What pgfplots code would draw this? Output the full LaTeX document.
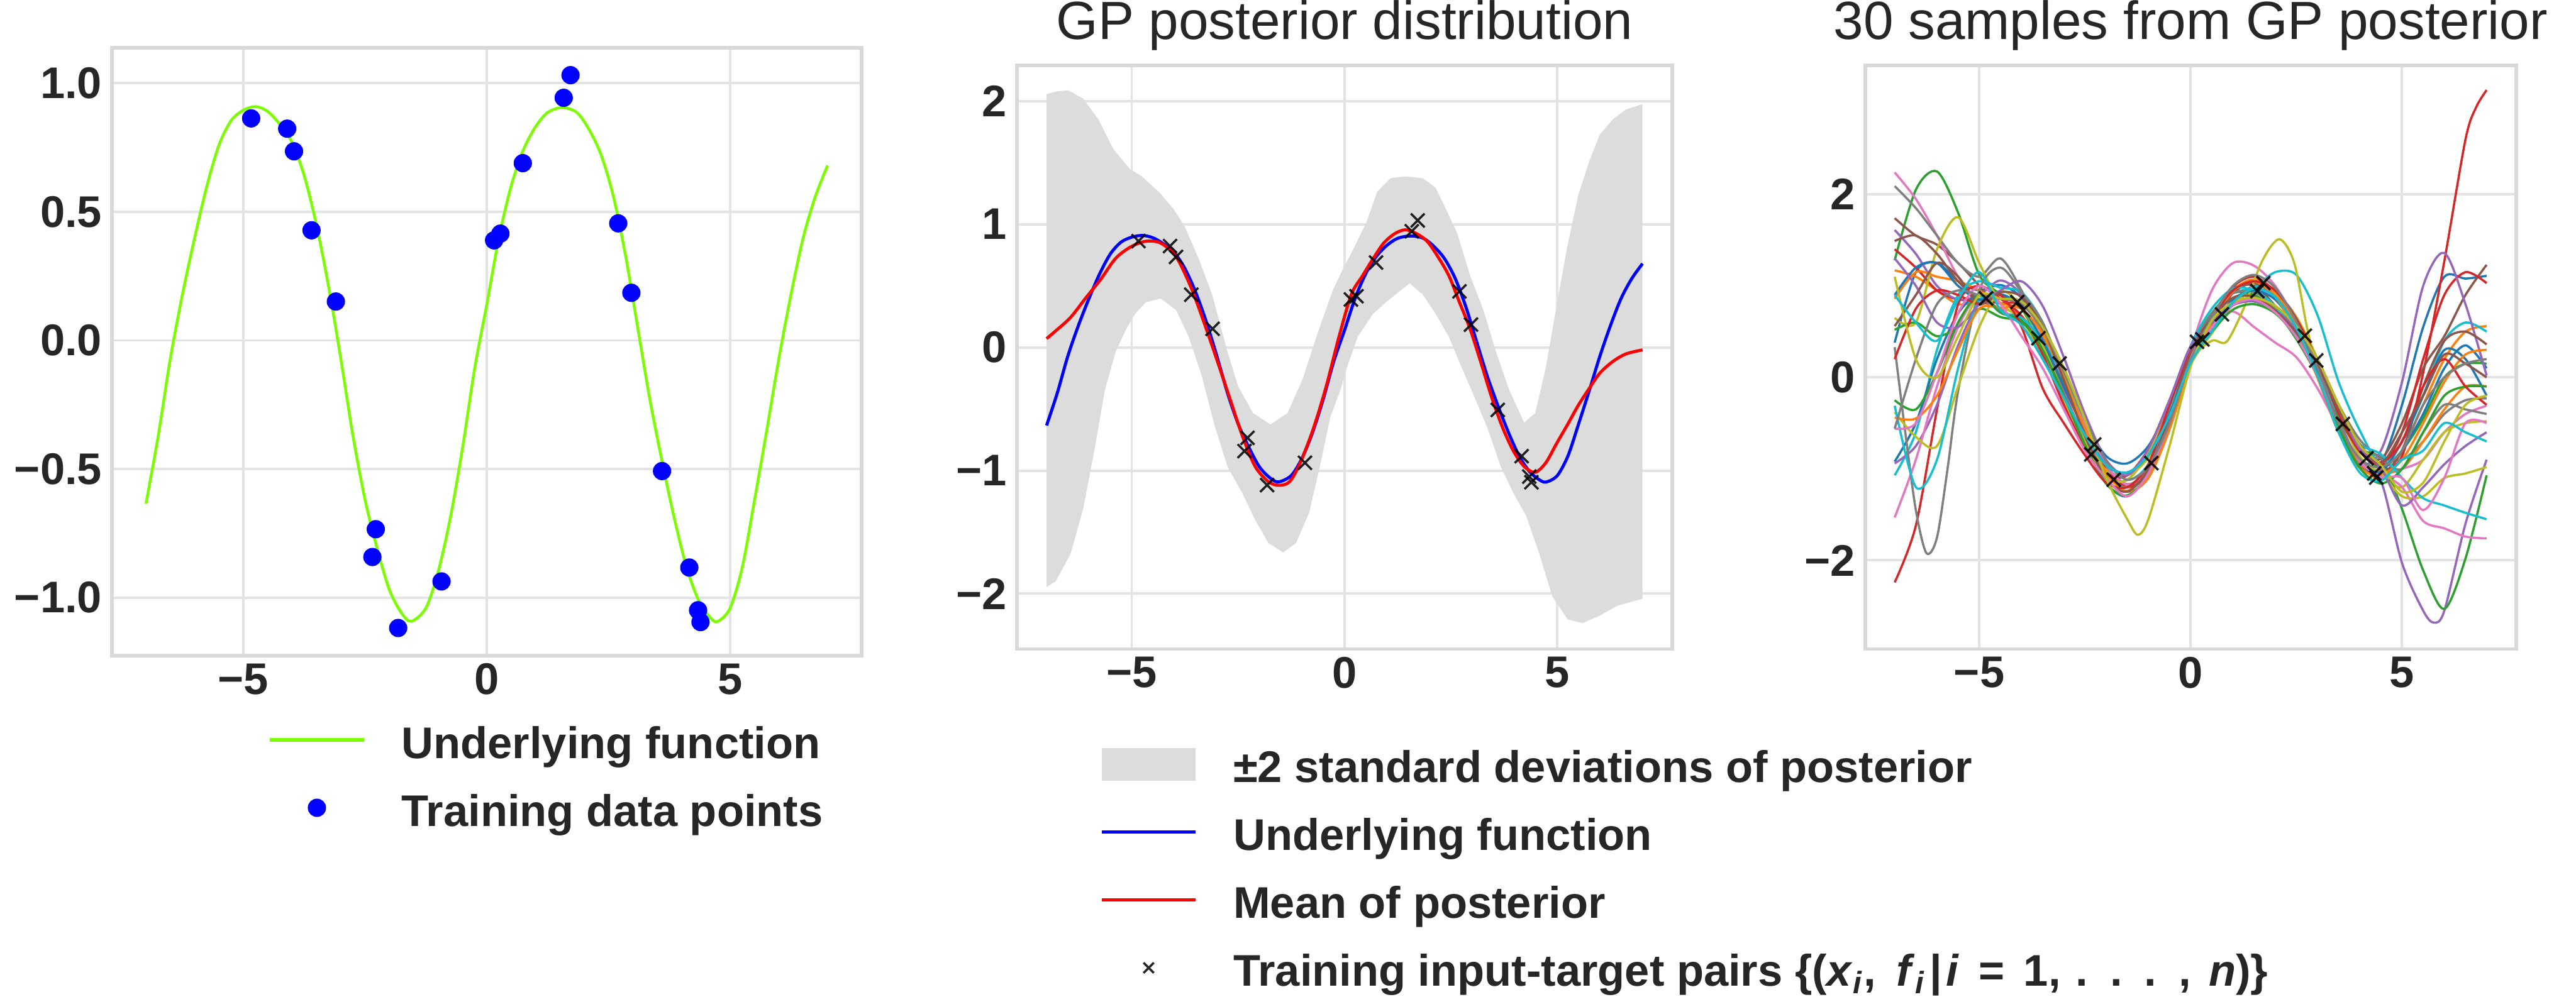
\documentclass[border=0pt]{standalone}
\usepackage{fontspec}
\setmainfont{Liberation Sans}
\usepackage{pgfplots}
\usepackage{pgfplotstable}
\pgfplotsset{compat=1.18}
\definecolor{txt}{HTML}{262626}
\definecolor{gridc}{HTML}{E3E3E3}
\definecolor{spinec}{HTML}{D9D9D9}
\definecolor{band}{HTML}{DCDCDC}
\definecolor{lgreen}{HTML}{7CFC00}
\definecolor{c0}{HTML}{1F77B4}
\definecolor{c1}{HTML}{FF7F0E}
\definecolor{c2}{HTML}{2CA02C}
\definecolor{c3}{HTML}{D62728}
\definecolor{c4}{HTML}{9467BD}
\definecolor{c5}{HTML}{8C564B}
\definecolor{c6}{HTML}{E377C2}
\definecolor{c7}{HTML}{7F7F7F}
\definecolor{c8}{HTML}{BCBD22}
\definecolor{c9}{HTML}{17BECF}
\newcommand\tickfont{\fontsize{16}{19}\selectfont\bfseries}
\newcommand\legfont{\fontsize{16}{19}\selectfont\bfseries}
\newcommand\titfont{\fontsize{19.4}{23}\selectfont}

\pgfplotsset{
 gp/.style={
  scale only axis,
  xmin=-7.7, xmax=7.7,
  xtick={-5,0,5}, xticklabels={−5,0,5},
  axis line style={draw=spinec, line width=1.3pt},
  grid=major,
  major grid style={draw=gridc, line width=0.9pt},
  major tick length=0pt,
  tick style={draw=none},
  ticklabel style={font=\tickfont, text=txt},
  xticklabel style={inner sep=0pt, yshift=-2.6pt},
  yticklabel style={inner sep=0pt, xshift=-3.4pt},
  title style={font=\titfont, text=txt, at={(0.5,1)}, anchor=base, yshift=3.4pt},
  legend cell align=left,
  legend style={draw=none, fill=none, inner sep=0pt, outer sep=0pt,
    row sep=9.7pt, column sep=13pt, font=\legfont, text=txt,
    nodes={inner sep=0pt, text height=14pt, text depth=0.8pt}},
 },
 legline/.style={legend image code/.code={\draw[##1,line width=1.2pt] (0pt,0pt) -- (34pt,0pt);}},
 legdot/.style={legend image code/.code={\path (0pt,0pt) (34pt,0pt); \draw[##1] plot coordinates {(17pt,0pt)};}},
 legpatch/.style={legend image code/.code={\path[##1,draw=none] (0pt,-5.9pt) rectangle (34pt,5.9pt);}},
 legx/.style={legend image code/.code={\path (0pt,0pt) (34pt,0pt); \draw[##1,mark size=2.6pt] plot coordinates {(17pt,0pt)};}},
 samp/.style={line width=0.8pt, smooth, forget plot},
}

\pgfplotstableread{
x y
-7.0 -0.634
-6.75 -0.372
-6.5 -0.07
-6.25 0.18
-6.0 0.40
-5.75 0.60
-5.5 0.76
-5.25 0.855
-5.0 0.895
-4.75 0.909
-4.5 0.89
-4.25 0.84
-4.0 0.77
-3.75 0.64
-3.5 0.45
-3.25 0.21
-3.0 -0.07
-2.75 -0.37
-2.5 -0.62
-2.25 -0.81
-2.0 -0.97
-1.75 -1.06
-1.55 -1.092
-1.25 -1.04
-1.0 -0.90
-0.75 -0.69
-0.5 -0.42
-0.25 -0.11
0.0 0.14
0.25 0.40
0.5 0.60
0.75 0.74
1.0 0.83
1.25 0.886
1.55 0.905
1.85 0.886
2.1 0.82
2.35 0.72
2.6 0.56
2.85 0.33
3.1 0.05
3.35 -0.23
3.6 -0.47
3.85 -0.69
4.1 -0.88
4.35 -1.01
4.6 -1.08
4.75 -1.092
5.0 -1.04
5.25 -0.88
5.5 -0.62
5.75 -0.35
6.0 -0.07
6.25 0.18
6.5 0.40
6.75 0.56
7.0 0.68
}\ufun

\pgfplotstableread{
x y
-4.84 0.863
-4.10 0.823
-3.96 0.735
-3.60 0.428
-3.10 0.151
-2.28 -0.734
-2.35 -0.842
-1.82 -1.118
-0.93 -0.937
0.15 0.389
0.28 0.415
0.74 0.689
1.58 0.943
1.72 1.031
2.70 0.455
2.97 0.185
3.60 -0.508
4.16 -0.883
4.34 -1.049
4.39 -1.095
}\train

\pgfplotstableread{
x y
-7.0 0.071
-6.79 0.133
-6.44 0.242
-6.09 0.397
-5.73 0.552
-5.38 0.722
-5.03 0.815
-4.67 0.862
-4.32 0.847
-3.96 0.738
-3.61 0.49
-3.31 0.211
-3.0 -0.099
-2.70 -0.409
-2.40 -0.719
-2.10 -0.967
-1.79 -1.09
-1.54 -1.12
-1.29 -1.09
-1.04 -0.936
-0.73 -0.657
-0.43 -0.316
-0.13 0.087
0.16 0.43
0.42 0.58
0.67 0.72
0.92 0.847
1.18 0.924
1.43 0.955
1.69 0.924
1.94 0.862
2.19 0.738
2.45 0.583
2.70 0.366
2.95 0.149
3.21 -0.130
3.46 -0.409
3.72 -0.657
3.97 -0.843
4.22 -0.967
4.48 -1.014
4.73 -0.936
4.98 -0.781
5.24 -0.626
5.49 -0.471
5.75 -0.332
6.0 -0.208
6.30 -0.115
6.61 -0.053
7.0 -0.02
}\pmean

\begin{document}
\begin{tikzpicture}
\useasboundingbox (0pt,0pt) rectangle (929.8pt,-360pt);

% ---------------- Panel 1 ----------------
\begin{axis}[gp, at={(40.4pt,-236.8pt)}, anchor=south west,
  width=270.6pt, height=219.6pt,
  ymin=-1.226, ymax=1.138,
  ytick={-1,-0.5,0,0.5,1}, yticklabels={−1.0,−0.5,0.0,0.5,1.0},
  legend style={at={(0.2084,-0.1047)}, anchor=north west}]
\addplot[lgreen, line width=1pt, smooth, legline] table {\ufun};
\addlegendentry{Underlying function}
\addplot[only marks, mark=*, mark size=3.1pt, color=blue, mark options={fill=blue, draw=blue}, legdot] table {\train};
\addlegendentry{Training data points}
\end{axis}

% ---------------- Panel 2 ----------------
\begin{axis}[gp, at={(367pt,-234.4pt)}, anchor=south west,
  width=236.6pt, height=210.8pt,
  ymin=-2.45, ymax=2.29,
  ytick={-2,-1,0,1,2}, yticklabels={−2,−1,0,1,2},
  title={GP posterior distribution},
  legend style={at={(0.1268,-0.1622)}, anchor=north west}]
\addplot[fill=band, draw=none, legpatch] coordinates {
(-7.0,2.056) (-6.75,2.08) (-6.49,2.087) (-6.14,2.02) (-5.78,1.85) (-5.43,1.61) (-5.05,1.45) (-4.77,1.39) (-4.37,1.265) (-4.02,1.125) (-3.76,0.986) (-3.41,0.707) (-3.11,0.428) (-2.75,-0.037) (-2.5,-0.316) (-2.15,-0.533) (-1.74,-0.626) (-1.34,-0.533) (-0.98,-0.254) (-0.63,0.118) (-0.28,0.459) (-0.09,0.60) (0.21,0.80) (0.52,1.02) (0.77,1.265) (1.08,1.374) (1.43,1.389) (1.84,1.374) (2.14,1.296) (2.40,1.11) (2.65,0.924) (2.95,0.583) (3.26,0.304) (3.56,-0.037) (3.87,-0.347) (4.22,-0.611) (4.48,-0.533) (4.73,-0.161) (4.98,0.335) (5.24,0.831) (5.49,1.234) (5.75,1.513) (6.0,1.73) (6.31,1.854) (6.61,1.932) (7.0,1.975)
(7.0,-2.04) (6.4,-2.099) (6.0,-2.177) (5.59,-2.239) (5.24,-2.208) (4.88,-2.02) (4.58,-1.68) (4.27,-1.37) (3.97,-1.184) (3.67,-0.967) (3.36,-0.657) (3.06,-0.409) (2.75,-0.161) (2.45,0.087) (2.14,0.273) (1.84,0.428) (1.53,0.521) (1.02,0.381) (0.67,0.273) (0.31,0.087) (0.06,-0.16) (-0.1,-0.35) (-0.33,-0.56) (-0.58,-0.967) (-0.83,-1.34) (-1.14,-1.588) (-1.44,-1.665) (-1.79,-1.588) (-2.10,-1.40) (-2.40,-1.184) (-2.75,-0.967) (-3.06,-0.626) (-3.36,-0.223) (-3.66,0.087) (-3.96,0.304) (-4.32,0.397) (-4.67,0.366) (-4.92,0.273) (-5.13,0.149) (-5.38,-0.037) (-5.63,-0.347) (-5.88,-0.84) (-6.14,-1.31) (-6.44,-1.68) (-6.79,-1.90) (-7.0,-1.944)
} -- cycle;
\addlegendentry{±2 standard deviations of posterior}
\addplot[blue, line width=1.1pt, smooth, legline] table {\ufun};
\addlegendentry{Underlying function}
\addplot[red, line width=1.1pt, smooth, legline] table {\pmean};
\addlegendentry{Mean of posterior}
\addplot[only marks, mark=x, mark size=3.5pt, color=black, mark options={line width=0.8pt, opacity=0.85}, legx] table {\train};
\addlegendentry{Training input-target pairs \{(\textit{x}\textsubscript{\textit{i}}, \hspace{3pt}\textit{f}\textsubscript{\textit{i}}\hspace{1.5pt}|\hspace{1.5pt}\textit{i} \hspace{2.5pt}= \hspace{2.5pt}1, \hspace{1pt}. \hspace{2pt}. \hspace{2pt}. \hspace{2pt}, \hspace{2pt}\textit{n})\}}
\end{axis}

% ---------------- Panel 3 ----------------
\begin{axis}[gp, at={(673.2pt,-234.4pt)}, anchor=south west,
  width=235pt, height=210.8pt,
  ymin=-2.97, ymax=3.41,
  ytick={-2,0,2}, yticklabels={−2,0,2},
  title={30 samples from GP posterior}]
\addplot[c0, samp] coordinates {(-7,0.38)(-6.5,1.15)(-6,1.25)(-5.5,1.05)(-5,0.95)(-4.5,1.01)(-4,0.87)(-3.5,0.50)(-3,0.00)(-2.5,-0.49)(-2,-0.86)(-1.5,-0.94)(-1,-0.75)(-0.5,-0.30)(0,0.29)(0.5,0.65)(1,0.95)(1.5,1.05)(2,0.95)(2.5,0.64)(3,0.18)(3.5,-0.40)(4,-0.81)(4.5,-0.93)(5,-0.3)(5.5,0.55)(6,1.10)(6.5,1.08)(7,1.11)};
\addplot[c1, samp] coordinates {(-7,1.17)(-6.5,1.10)(-6,0.95)(-5.5,0.80)(-5,0.82)(-4.5,0.76)(-4,0.67)(-3.5,0.35)(-3,-0.15)(-2.5,-0.69)(-2,-1.11)(-1.5,-1.24)(-1,-1.00)(-0.5,-0.45)(0,0.24)(0.5,0.55)(1,0.79)(1.5,0.85)(2,0.75)(2.5,0.49)(3,0.08)(3.5,-0.50)(4,-0.94)(4.5,-1.11)(5,-0.8)(5.5,-0.3)(6,0.2)(6.5,0.50)(7,0.56)};
\addplot[c2, samp] coordinates {(-7,1.28)(-6.5,2.05)(-6,2.25)(-5.5,1.80)(-5,1.12)(-4.5,0.91)(-4,0.75)(-3.5,0.32)(-3,-0.22)(-2.5,-0.71)(-2,-1.06)(-1.5,-1.07)(-1,-0.78)(-0.5,-0.25)(0,0.34)(0.5,0.60)(1,0.79)(1.5,0.83)(2,0.73)(2.5,0.52)(3,0.15)(3.5,-0.35)(4,-0.78)(4.5,-0.99)(5,-0.8)(5.5,-0.45)(6,0.0)(6.5,0.15)(7,0.15)};
\addplot[c3, samp] coordinates {(-7,1.40)(-6.5,1.20)(-6,0.95)(-5.5,0.85)(-5,0.85)(-4.5,0.81)(-4,0.80)(-3.5,0.52)(-3,0.05)(-2.5,-0.51)(-2,-0.99)(-1.5,-1.20)(-1,-1.05)(-0.5,-0.52)(0,0.19)(0.5,0.65)(1,0.99)(1.5,1.10)(2,0.93)(2.5,0.56)(3,0.05)(3.5,-0.55)(4,-0.94)(4.5,-1.01)(5,-0.86)(5.5,0.05)(6,1.27)(6.5,2.6)(6.75,2.95)(7,3.14)};
\addplot[c4, samp] coordinates {(-7,1.61)(-6.5,1.35)(-6,1.0)(-5.5,0.85)(-5,0.90)(-4.5,1.06)(-4,0.90)(-3.5,0.45)(-3,-0.15)(-2.5,-0.71)(-2,-1.06)(-1.5,-1.07)(-1,-0.80)(-0.5,-0.35)(0,0.19)(0.5,0.50)(1,0.82)(1.5,1.00)(2,0.93)(2.5,0.66)(3,0.18)(3.5,-0.45)(4,-0.94)(4.5,-1.13)(5,-2.03)(5.5,-2.55)(5.75,-2.68)(6,-2.55)(6.5,-1.6)(7,-0.9)};
\addplot[c5, samp] coordinates {(-7,1.74)(-6.5,1.55)(-6,1.45)(-5.5,1.25)(-5,1.0)(-4.5,0.71)(-4,0.65)(-3.5,0.40)(-3,-0.02)(-2.5,-0.51)(-2,-0.96)(-1.5,-1.17)(-1,-1.00)(-0.5,-0.48)(0,0.24)(0.5,0.68)(1,0.97)(1.5,1.00)(2,0.78)(2.5,0.44)(3,0.02)(3.5,-0.45)(4,-0.78)(4.5,-0.89)(5,-0.5)(5.5,0.1)(6,0.45)(6.5,0.9)(7,1.23)};
\addplot[c6, samp] coordinates {(-7,2.24)(-6.5,1.95)(-6,1.55)(-5.5,1.10)(-5,0.85)(-4.5,0.86)(-4,0.83)(-3.5,0.55)(-3,0.10)(-2.5,-0.46)(-2,-0.96)(-1.5,-1.17)(-1,-1.02)(-0.5,-0.55)(0,0.30)(0.5,0.95)(1,1.25)(1.5,1.22)(2,1.00)(2.5,0.60)(3,0.00)(3.5,-0.60)(4,-0.98)(4.5,-1.06)(5,-1.0)(5.5,-0.9)(6,-0.6)(6.5,-0.4)(7,-0.31)};
\addplot[c7, samp] coordinates {(-7,2.09)(-6.5,1.85)(-6,1.55)(-5.5,1.25)(-5,1.10)(-4.5,1.30)(-4,0.95)(-3.5,0.45)(-3,-0.20)(-2.5,-0.73)(-2,-1.09)(-1.5,-1.12)(-1,-0.82)(-0.5,-0.28)(0,0.34)(0.5,0.65)(1,0.87)(1.5,0.90)(2,0.73)(2.5,0.42)(3,0.02)(3.5,-0.45)(4,-0.78)(4.5,-0.86)(5,-0.9)(5.5,-0.7)(6,-0.4)(6.5,-0.25)(7,-0.23)};
\addplot[c8, samp] coordinates {(-7,0.65)(-6.5,0.6)(-6,1.4)(-5.5,1.75)(-5,1.25)(-4.5,0.81)(-4,0.63)(-3.5,0.22)(-3,-0.25)(-2.5,-0.69)(-2,-1.01)(-1.5,-1.07)(-1,-0.88)(-0.5,-0.45)(0,0.14)(0.5,0.48)(1,0.79)(1.5,0.95)(2,0.91)(2.5,0.66)(3,0.20)(3.5,-0.40)(4,-0.86)(4.5,-1.06)(5,-1.2)(5.5,-0.9)(6,-0.6)(6.5,-0.5)(7,-0.48)};
\addplot[c9, samp] coordinates {(-7,-1.07)(-6.5,-0.6)(-6,0.3)(-5.5,0.9)(-5,1.05)(-4.5,0.98)(-4,0.93)(-3.5,0.60)(-3,0.02)(-2.5,-0.59)(-2,-1.06)(-1.5,-1.20)(-1,-0.95)(-0.5,-0.38)(0,0.32)(0.5,0.70)(1,0.92)(1.5,0.98)(2,1.15)(2.5,1.12)(3,0.68)(3.5,-0.05)(4,-0.58)(4.5,-0.95)(5,-0.7)(5.5,-0.2)(6,0.4)(6.5,0.6)(7,0.50)};
\addplot[c0, samp] coordinates {(-7,-0.92)(-6.5,-0.5)(-6,0.2)(-5.5,0.7)(-5,0.9)(-4.5,0.71)(-4,0.63)(-3.5,0.30)(-3,-0.20)(-2.5,-0.73)(-2,-1.16)(-1.5,-1.30)(-1,-1.05)(-0.5,-0.50)(0,0.19)(0.5,0.55)(1,0.79)(1.5,0.85)(2,0.71)(2.5,0.44)(3,0.02)(3.5,-0.50)(4,-0.91)(4.5,-1.09)(5,-0.8)(5.5,-0.4)(6,0.1)(6.5,0.35)(7,0.10)};
\addplot[c1, samp] coordinates {(-7,0.86)(-6.5,1.15)(-6,1.10)(-5.5,1.05)(-5,0.95)(-4.5,0.81)(-4,0.75)(-3.5,0.48)(-3,0.02)(-2.5,-0.51)(-2,-0.96)(-1.5,-1.17)(-1,-1.02)(-0.5,-0.55)(0,0.14)(0.5,0.60)(1,0.95)(1.5,1.07)(2,0.93)(2.5,0.56)(3,0.05)(3.5,-0.55)(4,-0.94)(4.5,-1.03)(5,-1.0)(5.5,-0.7)(6,-0.35)(6.5,-0.1)(7,-0.1)};
\addplot[c2, samp] coordinates {(-7,0.52)(-6.5,0.60)(-6,0.45)(-5.5,0.55)(-5,0.75)(-4.5,0.66)(-4,0.60)(-3.5,0.35)(-3,-0.05)(-2.5,-0.51)(-2,-0.96)(-1.5,-1.17)(-1,-1.00)(-0.5,-0.45)(0,0.29)(0.5,0.70)(1,0.92)(1.5,0.90)(2,0.73)(2.5,0.42)(3,0.02)(3.5,-0.45)(4,-0.78)(4.5,-0.89)(5,-1.44)(5.5,-2.11)(6,-2.53)(6.5,-1.98)(7,-1.07)};
\addplot[c3, samp] coordinates {(-7,-2.24)(-6.5,-1.62)(-6,-0.35)(-5.5,0.80)(-5,1.0)(-4.5,0.86)(-4,0.67)(-3.5,0.25)(-3,-0.30)(-2.5,-0.76)(-2,-1.06)(-1.5,-1.07)(-1,-0.78)(-0.5,-0.25)(0,0.34)(0.5,0.62)(1,0.82)(1.5,0.87)(2,0.78)(2.5,0.56)(3,0.20)(3.5,-0.30)(4,-0.74)(4.5,-0.96)(5,-0.6)(5.5,0.2)(6,0.9)(6.5,1.15)(7,1.03)};
\addplot[c4, samp] coordinates {(-7,-0.94)(-6.5,-0.75)(-6,-0.3)(-5.5,0.35)(-5,0.80)(-4.5,0.74)(-4,0.57)(-3.5,0.20)(-3,-0.22)(-2.5,-0.63)(-2,-0.96)(-1.5,-1.04)(-1,-0.85)(-0.5,-0.42)(0,0.16)(0.5,0.50)(1,0.82)(1.5,0.97)(2,0.88)(2.5,0.54)(3,0.02)(3.5,-0.60)(4,-0.95)(4.5,-0.80)(5,-0.05)(5.5,1.0)(6,1.36)(6.5,0.80)(7,0.02)};
\addplot[c5, samp] coordinates {(-7,1.49)(-6.5,1.55)(-6,1.35)(-5.5,1.05)(-5,0.85)(-4.5,0.86)(-4,0.83)(-3.5,0.55)(-3,0.10)(-2.5,-0.46)(-2,-0.96)(-1.5,-1.17)(-1,-1.02)(-0.5,-0.55)(0,0.14)(0.5,0.58)(1,0.92)(1.5,1.03)(2,0.88)(2.5,0.52)(3,0.00)(3.5,-0.60)(4,-0.98)(4.5,-1.06)(5,-0.8)(5.5,-0.1)(6,0.4)(6.5,0.5)(7,0.36)};
\addplot[c6, samp] coordinates {(-7,-1.53)(-6.5,-0.9)(-6,-0.1)(-5.5,0.55)(-5,0.90)(-4.5,0.71)(-4,0.65)(-3.5,0.40)(-3,-0.02)(-2.5,-0.51)(-2,-0.96)(-1.5,-1.17)(-1,-1.00)(-0.5,-0.48)(0,0.24)(0.5,0.60)(1,0.72)(1.5,0.55)(2,0.38)(2.5,0.22)(3,-0.12)(3.5,-0.55)(4,-0.90)(4.5,-1.05)(5,-1.2)(5.5,-1.57)(6,-1.65)(6.5,-1.74)(7,-1.76)};
\addplot[c7, samp] coordinates {(-7,0.33)(-6.75,-0.6)(-6.5,-1.45)(-6.25,-1.92)(-6,-1.75)(-5.75,-1.0)(-5.5,-0.15)(-5,0.95)(-4.5,1.20)(-4,0.93)(-3.5,0.60)(-3,0.02)(-2.5,-0.59)(-2,-1.06)(-1.5,-1.20)(-1,-0.95)(-0.5,-0.38)(0,0.32)(0.5,0.70)(1,0.92)(1.5,0.93)(2,0.78)(2.5,0.54)(3,0.18)(3.5,-0.30)(4,-0.68)(4.5,-0.89)(5,-1.0)(5.5,-0.6)(6,-0.3)(6.5,-0.35)(7,-0.4)};
\addplot[c8, samp] coordinates {(-7,-0.38)(-6.5,-0.65)(-6,-0.75)(-5.5,-0.1)(-5,0.55)(-4.5,0.94)(-4,0.77)(-3.5,0.35)(-3,-0.20)(-2.5,-0.73)(-2,-1.09)(-1.5,-1.12)(-1,-0.82)(-0.5,-0.28)(0,0.20)(0.5,0.40)(0.85,0.39)(1.25,0.75)(1.7,1.28)(2.1,1.51)(2.45,1.25)(2.75,0.55)(3,0.10)(3.5,-0.50)(4,-0.90)(4.5,-1.05)(5,-1.3)(5.5,-1.3)(6,-1.1)(6.5,-1.05)(7,-0.98)};
\addplot[c9, samp] coordinates {(-7,-0.31)(-6.5,-1.20)(-6,-0.9)(-5.5,0.1)(-5,0.85)(-4.5,0.71)(-4,0.65)(-3.5,0.40)(-3,0.00)(-2.5,-0.46)(-2,-0.91)(-1.5,-1.12)(-1,-0.95)(-0.5,-0.40)(0,0.34)(0.5,0.75)(1,0.97)(1.5,0.95)(2,0.78)(2.5,0.47)(3,0.07)(3.5,-0.40)(4,-0.73)(4.5,-0.84)(5,-1.1)(5.5,-1.32)(6,-1.40)(6.5,-1.48)(7,-1.55)};
\addplot[c0, samp] coordinates {(-7,0.9)(-6.5,1.2)(-6,1.25)(-5.5,1.0)(-5,0.85)(-4.5,0.91)(-4,0.77)(-3.5,0.40)(-3,-0.10)(-2.5,-0.59)(-2,-0.96)(-1.5,-1.04)(-1,-0.85)(-0.5,-0.40)(0,0.19)(0.5,0.55)(1,0.85)(1.5,0.95)(2,0.85)(2.5,0.54)(3,0.08)(3.5,-0.50)(4,-0.91)(4.5,-1.03)(5,-0.7)(5.5,-0.2)(6,0.3)(6.5,0.2)(7,-0.2)};
\addplot[c1, samp] coordinates {(-7,-0.44)(-6.5,-0.45)(-6,-0.2)(-5.5,0.3)(-5,0.75)(-4.5,0.76)(-4,0.75)(-3.5,0.47)(-3,0.00)(-2.5,-0.56)(-2,-1.04)(-1.5,-1.25)(-1,-1.10)(-0.5,-0.57)(0,0.14)(0.5,0.60)(1,0.94)(1.5,1.05)(2,0.88)(2.5,0.51)(3,0.00)(3.5,-0.60)(4,-0.99)(4.5,-1.06)(5,-0.9)(5.5,-0.5)(6,-0.05)(6.5,0.25)(7,0.3)};
\addplot[c2, samp] coordinates {(-7,-0.25)(-6.5,-0.35)(-6,0.05)(-5.5,0.6)(-5,0.9)(-4.5,0.71)(-4,0.62)(-3.5,0.30)(-3,-0.20)(-2.5,-0.74)(-2,-1.16)(-1.5,-1.29)(-1,-1.05)(-0.5,-0.50)(0,0.19)(0.5,0.50)(1,0.74)(1.5,0.80)(2,0.70)(2.5,0.44)(3,0.03)(3.5,-0.55)(4,-0.99)(4.5,-1.16)(5,-1.0)(5.5,-0.6)(6,-0.2)(6.5,-0.1)(7,-0.1)};
\addplot[c3, samp] coordinates {(-7,0.2)(-6.5,0.75)(-6,0.95)(-5.5,0.9)(-5,0.80)(-4.5,0.90)(-4,0.55)(-3.5,-0.12)(-3,-0.50)(-2.5,-0.85)(-2,-1.15)(-1.5,-1.20)(-1,-0.95)(-0.5,-0.30)(0,0.29)(0.5,0.65)(1,0.95)(1.5,1.05)(2,0.95)(2.5,0.64)(3,0.18)(3.5,-0.40)(4,-0.81)(4.5,-0.93)(5,-0.7)(5.5,-0.1)(6,0.2)(6.5,-0.1)(7,-0.3)};
\addplot[c4, samp] coordinates {(-7,1.3)(-6.5,1.0)(-6,0.6)(-5.5,0.55)(-5,0.80)(-4.5,0.95)(-4,1.05)(-3.5,0.78)(-3,0.22)(-2.5,-0.40)(-2,-0.90)(-1.5,-1.07)(-1,-0.78)(-0.5,-0.25)(0,0.34)(0.5,0.60)(1,0.79)(1.5,0.83)(2,0.73)(2.5,0.52)(3,0.15)(3.5,-0.35)(4,-0.78)(4.5,-0.99)(5,-1.4)(5.5,-1.2)(6,-0.95)(6.5,-0.75)(7,-0.6)};
\addplot[c5, samp] coordinates {(-7,0.56)(-6.5,0.9)(-6,1.25)(-5.5,1.1)(-5,0.80)(-4.5,0.93)(-4,0.88)(-3.5,0.55)(-3,-0.03)(-2.5,-0.64)(-2,-1.11)(-1.5,-1.25)(-1,-1.00)(-0.5,-0.43)(0,0.27)(0.5,0.65)(1,0.87)(1.5,0.88)(2,0.73)(2.5,0.49)(3,0.13)(3.5,-0.35)(4,-0.73)(4.5,-0.94)(5,-0.6)(5.5,-0.2)(6,0.25)(6.5,0.15)(7,0.0)};
\addplot[c6, samp] coordinates {(-7,-0.56)(-6.5,-0.50)(-6,0.05)(-5.5,0.7)(-5,1.0)(-4.5,0.80)(-4,0.45)(-3.5,0.10)(-3,-0.35)(-2.5,-0.80)(-2,-1.10)(-1.5,-1.30)(-1,-1.05)(-0.5,-0.50)(0,0.19)(0.5,0.55)(1,0.79)(1.5,0.85)(2,0.71)(2.5,0.44)(3,0.02)(3.5,-0.50)(4,-0.91)(4.5,-1.09)(5,-1.1)(5.5,-1.45)(6,-1.1)(6.5,-0.5)(7,-0.5)};
\addplot[c7, samp] coordinates {(-7,-0.56)(-6.5,0.2)(-6,0.8)(-5.5,0.95)(-5,0.9)(-4.5,0.86)(-4,0.80)(-3.5,0.53)(-3,0.07)(-2.5,-0.46)(-2,-0.91)(-1.5,-1.12)(-1,-0.97)(-0.5,-0.50)(0,0.19)(0.5,0.65)(1,1.00)(1.5,1.12)(2,0.98)(2.5,0.61)(3,0.10)(3.5,-0.50)(4,-0.89)(4.5,-0.98)(5,-0.8)(5.5,-0.3)(6,0.0)(6.5,0.15)(7,0.2)};
\addplot[c8, samp] coordinates {(-7,1.1)(-6.5,0.2)(-6,0.0)(-5.5,0.45)(-5,0.90)(-4.5,0.86)(-4,0.83)(-3.5,0.55)(-3,0.10)(-2.5,-0.46)(-2,-1.10)(-1.5,-1.55)(-1.25,-1.72)(-1,-1.55)(-0.5,-0.75)(0,0.12)(0.5,0.62)(1,0.82)(1.5,0.87)(2,0.78)(2.5,0.56)(3,0.20)(3.5,-0.30)(4,-0.74)(4.5,-0.96)(5,-1.25)(5.5,-1.15)(6,-0.7)(6.5,-0.3)(7,-0.2)};
\addplot[c9, samp] coordinates {(-7,0.9)(-6.5,0.6)(-6,0.4)(-5.5,0.85)(-5,1.15)(-4.5,0.74)(-4,0.57)(-3.5,0.20)(-3,-0.22)(-2.5,-0.63)(-2,-0.96)(-1.5,-1.04)(-1,-0.85)(-0.5,-0.42)(0,0.16)(0.5,0.50)(1,0.82)(1.5,0.97)(2,0.88)(2.5,0.54)(3,0.02)(3.5,-0.60)(4,-1.04)(4.5,-1.13)(5,-0.9)(5.5,-0.8)(6,-0.5)(6.5,-0.6)(7,-0.7)};
\addplot[only marks, mark=x, mark size=3.5pt, color=black, mark options={line width=0.8pt, opacity=0.85}, forget plot] table {\train};
\end{axis}
\end{tikzpicture}
\end{document}
